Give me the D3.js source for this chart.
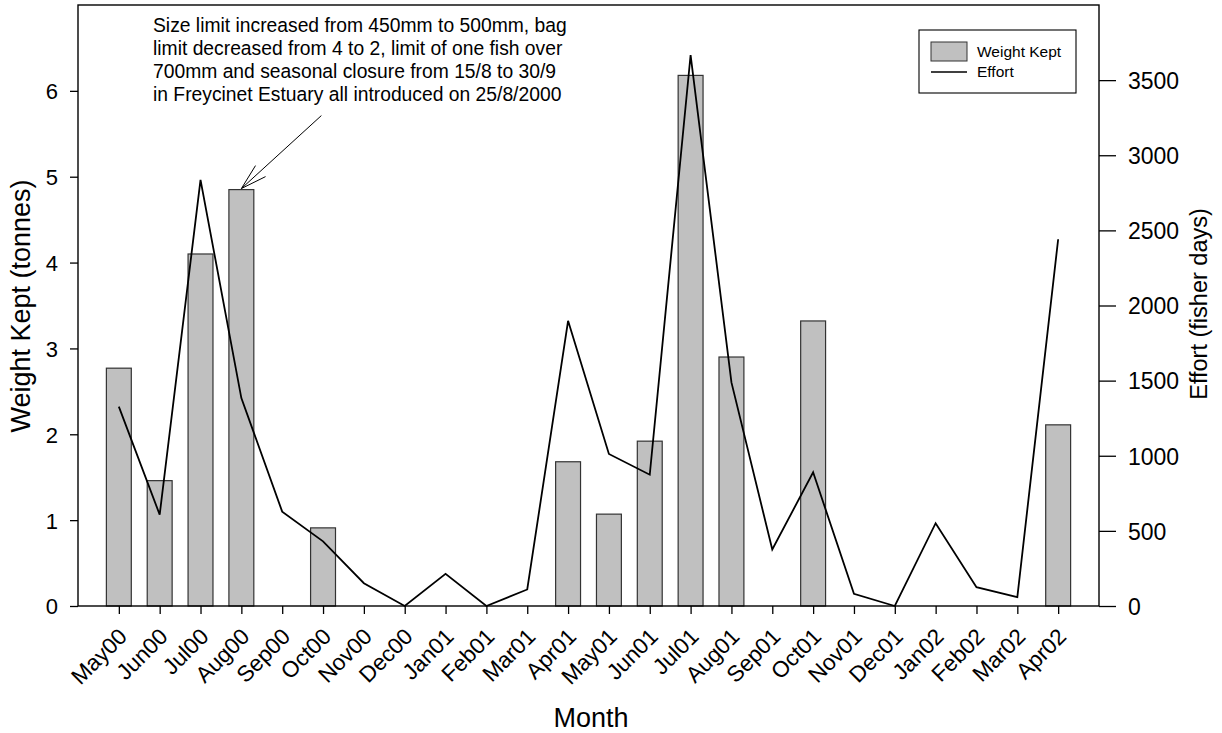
<!DOCTYPE html>
<html>
<head>
<meta charset="utf-8">
<script src="https://cdn.jsdelivr.net/npm/d3@7"></script>
<style>
  body { margin: 0; background: #fff; }
  svg { display: block; font-family: "Liberation Sans", Arial, sans-serif; }
</style>
</head>
<body>
<svg width="1222" height="733"></svg>
<script>
// data
var months = ["May00","Jun00","Jul00","Aug00","Sep00","Oct00","Nov00","Dec00","Jan01","Feb01","Mar01","Apr01",
              "May01","Jun01","Jul01","Aug01","Sep01","Oct01","Nov01","Dec01","Jan02","Feb02","Mar02","Apr02"];
var weightKept = [2.77,1.46,4.10,4.85,0,0.91,0,0,0,0,0,1.68,1.07,1.92,6.18,2.90,0,3.32,0,0,0,0,0,2.11];
var effort = [1327,608,2836,1384,628,430,152,0,214,0,110,1898,1012,874,3667,1488,376,890,81,0,551,125,59,2441];
var leftTicks = [0,1,2,3,4,5,6];
var rightTicks = [0,500,1000,1500,2000,2500,3000,3500];
var noteLines = ["Size limit increased from 450mm to 500mm, bag",
                 "limit decreased from 4 to 2, limit of one fish over",
                 "700mm and seasonal closure from 15/8 to 30/9",
                 "in Freycinet Estuary all introduced on 25/8/2000"];

var svg = d3.select("svg"),
    plotL = 78, plotR = 1099, plotT = 5, plotB = 606;

var rows = months.map(function(m, i) { return {month: m, w: weightKept[i], e: effort[i]}; });

var x = d3.scalePoint().domain(months).range([plotL, plotR]).padding(1);
var yL = d3.scaleLinear().domain([0, 7]).range([plotB, plotT]);
var yR = d3.scaleLinear().domain([0, 4000]).range([plotB, plotT]);
var barW = x.step() * 0.61;

// bars (zero months have no bar)
svg.append("g").selectAll("rect")
  .data(rows.filter(function(d) { return d.w > 0; }))
  .enter().append("rect")
  .attr("x", function(d) { return x(d.month) - barW / 2; })
  .attr("y", function(d) { return yL(d.w); })
  .attr("width", barW)
  .attr("height", function(d) { return yL(0) - yL(d.w); })
  .attr("fill", "#c0c0c0")
  .attr("stroke", "#333")
  .attr("stroke-width", 1.2);

// effort line
var line = d3.line()
  .x(function(d) { return x(d.month); })
  .y(function(d) { return yR(d.e); });

svg.append("path")
  .datum(rows)
  .attr("d", line)
  .attr("fill", "none")
  .attr("stroke", "#000")
  .attr("stroke-width", 1.8);

// frame
svg.append("rect")
  .attr("x", plotL).attr("y", plotT)
  .attr("width", plotR - plotL).attr("height", plotB - plotT)
  .attr("fill", "none").attr("stroke", "#000").attr("stroke-width", 1.4);

// axes
var axL = svg.append("g").attr("transform", "translate(" + plotL + ",0)")
  .call(d3.axisLeft(yL).tickValues(leftTicks).tickSize(8).tickPadding(12).tickFormat(d3.format("d")));
var axR = svg.append("g").attr("transform", "translate(" + plotR + ",0)")
  .call(d3.axisRight(yR).tickValues(rightTicks).tickSize(17).tickPadding(12).tickFormat(d3.format("d")));
var axB = svg.append("g").attr("transform", "translate(0," + plotB + ")")
  .call(d3.axisBottom(x).tickSize(8).tickPadding(6));

[axL, axR, axB].forEach(function(a) {
  a.select(".domain").remove();
  a.selectAll(".tick line").attr("stroke", "#000").attr("stroke-width", 1.3);
  a.selectAll("text").attr("font-family", "Liberation Sans, Arial, sans-serif").attr("fill", "#000");
});
axL.selectAll("text").attr("font-size", 22).attr("dy", "0.36em");
axR.selectAll("text").attr("font-size", 23).attr("dy", "0.36em");
axB.selectAll("text")
  .attr("font-size", 22.5)
  .attr("text-anchor", "end")
  .attr("x", 0).attr("y", 0).attr("dy", 0)
  .attr("transform", "translate(9,32) rotate(-45)");

// axis titles
svg.append("text")
  .attr("transform", "translate(30,306) rotate(-90)")
  .attr("text-anchor", "middle")
  .attr("font-size", 27)
  .text("Weight Kept (tonnes)");

svg.append("text")
  .attr("transform", "translate(1207,304) rotate(-90)")
  .attr("text-anchor", "middle")
  .attr("font-size", 23.5)
  .text("Effort (fisher days)");

svg.append("text")
  .attr("x", 591)
  .attr("y", 727)
  .attr("text-anchor", "middle")
  .attr("font-size", 27)
  .text("Month");

// legend
var lg = svg.append("g").attr("transform", "translate(919,30)");
lg.append("rect").attr("width", 157).attr("height", 63)
  .attr("fill", "#fff").attr("stroke", "#000").attr("stroke-width", 1.1);
lg.append("rect").attr("x", 12).attr("y", 12).attr("width", 36).attr("height", 19)
  .attr("fill", "#c0c0c0").attr("stroke", "#333").attr("stroke-width", 1);
lg.append("line").attr("x1", 12).attr("x2", 48).attr("y1", 42).attr("y2", 42)
  .attr("stroke", "#000").attr("stroke-width", 1.3);
lg.append("text").attr("x", 58).attr("y", 27).attr("font-size", 15.5).text("Weight Kept");
lg.append("text").attr("x", 58).attr("y", 47).attr("font-size", 15.5).text("Effort");

// annotation
var note = svg.append("g");
note.selectAll("text")
  .data(noteLines)
  .enter().append("text")
  .attr("x", 153)
  .attr("y", function(d, i) { return 31.5 + i * 23; })
  .attr("font-size", 19.3)
  .text(function(d) { return d; });

var tipX = x("Aug00"), tipY = yL(4.85) - 1;
var ang = Math.atan2(-73, 80), len = Math.sqrt(73 * 73 + 80 * 80), head = 27, spread = 16 * Math.PI / 180;
note.append("line")
  .attr("x1", tipX).attr("y1", tipY)
  .attr("x2", tipX + len * Math.cos(ang)).attr("y2", tipY + len * Math.sin(ang))
  .attr("stroke", "#000").attr("stroke-width", 1);
[-spread, spread].forEach(function(s) {
  note.append("line")
    .attr("x1", tipX).attr("y1", tipY)
    .attr("x2", tipX + head * Math.cos(ang + s)).attr("y2", tipY + head * Math.sin(ang + s))
    .attr("stroke", "#000").attr("stroke-width", 1);
});
</script>
</body>
</html>
